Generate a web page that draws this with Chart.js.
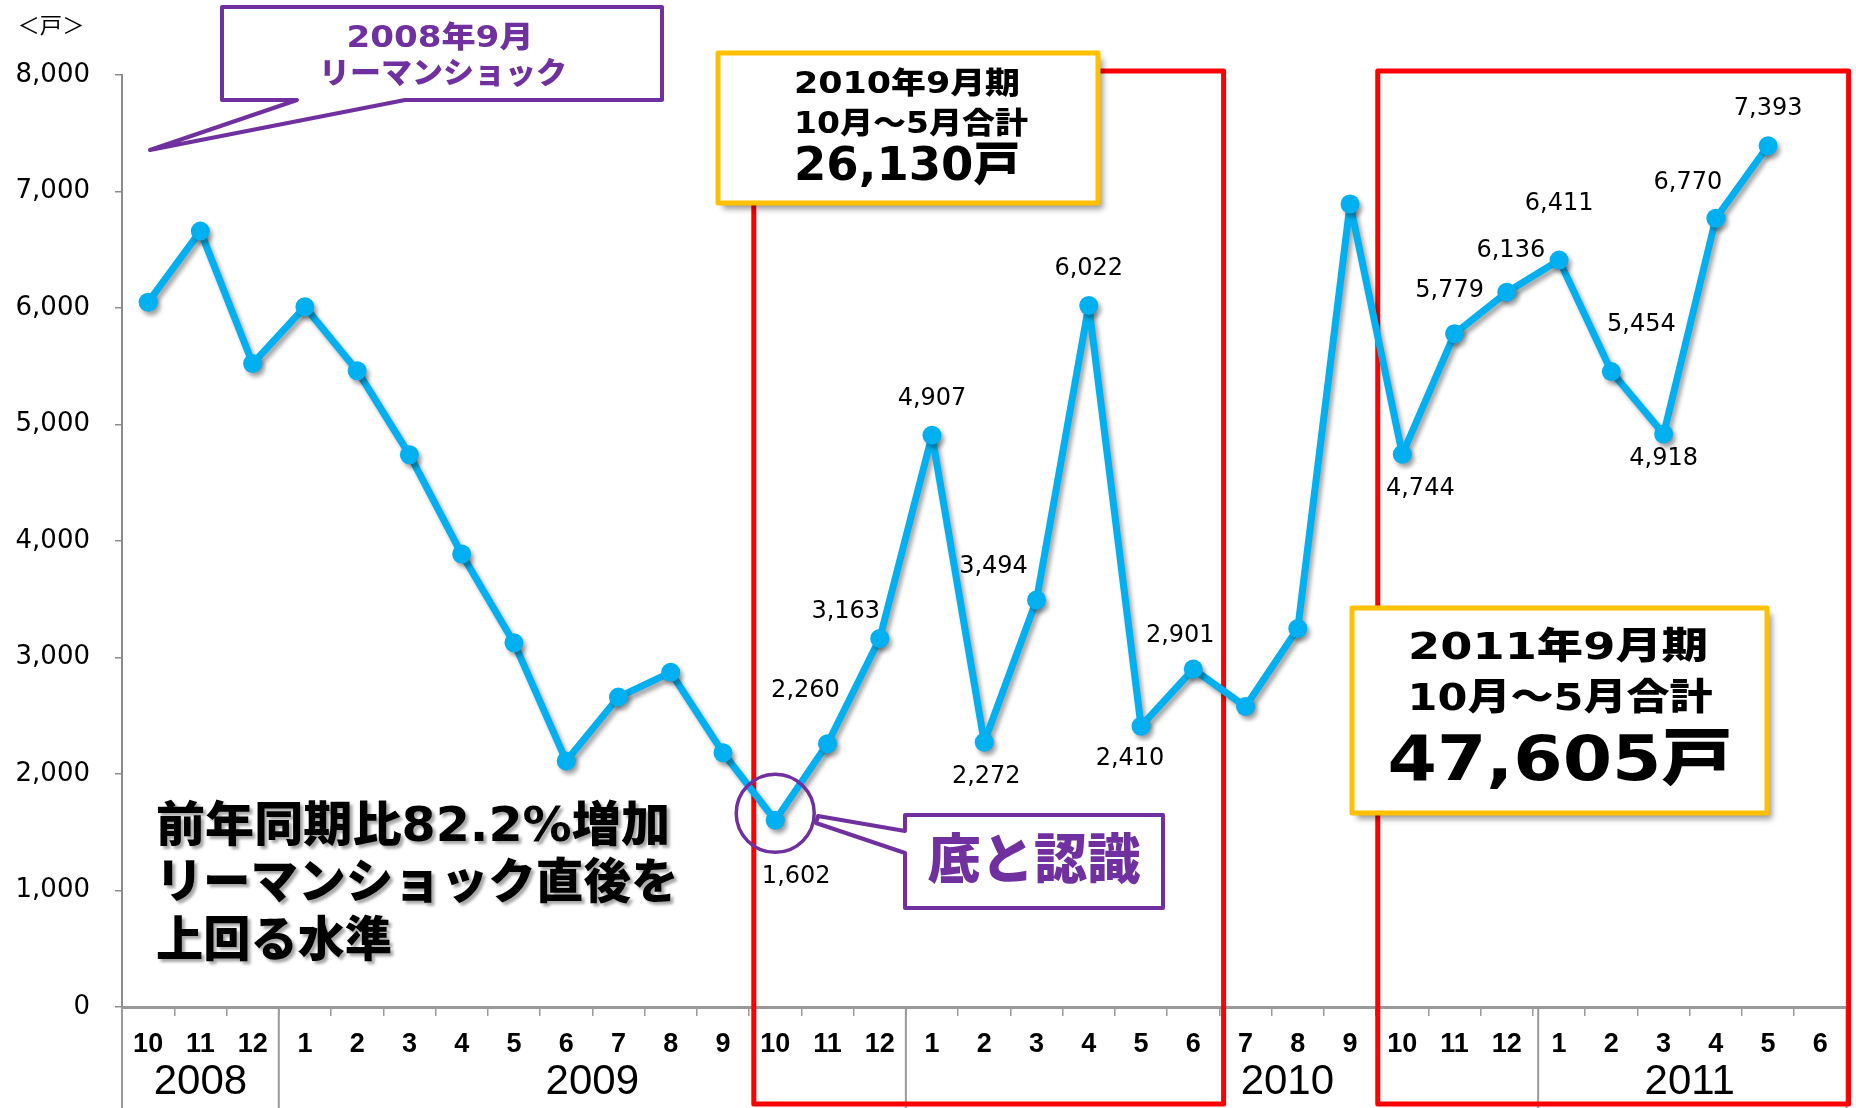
<!DOCTYPE html>
<html>
<head>
<meta charset="utf-8">
<script src="https://cdn.jsdelivr.net/npm/chart.js@4.4.1/dist/chart.umd.min.js"></script>
<style>
	html, body { margin: 0; padding: 0; background: #fff; }
	#wrap { width: 1856px; height: 1108px; }
</style>
</head>
<body>
<div id="wrap"><canvas id="chart1" width="1856" height="1108"></canvas></div>
<script>
// ventes mensuelles (戸) d'octobre 2008 a juin 2011
const mois = ['10','11','12','1','2','3','4','5','6','7','8','9','10','11','12','1','2','3','4','5','6','7','8','9','10','11','12','1','2','3','4','5','6'];
const annees = ['2008', '2009', '2010', '2011'];
const ventes = [6050, 6660, 5523, 6010, 5462, 4741, 3888, 3127, 2112, 2660, 2873, 2183,
	1602, 2260, 3163, 4907, 2272, 3494, 6022, 2410, 2901, 2579, 3249, 6893,
	4744, 5779, 6136, 6411, 5454, 4918, 6770, 7393, null];
// index des points qui ont une etiquette
const pointsEtiquetes = [12, 13, 14, 15, 16, 17, 18, 19, 20, 24, 25, 26, 27, 28, 29, 30, 31];
// periodes encadrees en rouge (index debut, index fin) : oct -> juin
const periodes = [[12, 20], [24, 32]];

const BLEU = '#00B0F0';
const VIOLET = '#7030A0';
const ROUGE = '#FF0000';
const JAUNE = '#FFC000';
const JP = "'DejaVu Sans', 'Noto Sans CJK JP'";

// decalage des etiquettes par rapport au point (px)
const decalage = {12: [21, 56], 13: [-22, -53], 14: [-34, -27], 15: [0, -37], 16: [2, 34], 17: [-43, -33],
	18: [0, -37], 19: [-11, 33], 20: [-13, -33], 24: [18, 34], 25: [-5, -43], 26: [4, -41], 27: [0, -56],
	28: [30, -47], 29: [0, 25], 30: [-28, -36], 31: [0, -37]};
// position des annees et des separations (en index de categorie)
const milieuAnnee = [1, 8.5, 21.8, 29.5];
const separations = [-0.5, 2.5, 14.5, 26.6, 32.5];
// le cadre rouge ne tombe pas pile entre deux mois
const bordCadre = [[0.09, 0.08], [0.03, 0.04]];

// texte centre, etire pour avoir la bonne largeur
function texte(ctx, str, cx, cy, font, largeur, couleur) {
	ctx.save();
	ctx.font = font;
	ctx.fillStyle = couleur;
	ctx.textAlign = 'center';
	ctx.textBaseline = 'middle';
	const w = ctx.measureText(str).width;
	ctx.translate(cx, cy);
	if (largeur) ctx.scale(largeur / w, 1);
	ctx.fillText(str, 0, 0);
	ctx.restore();
}

function ombre(ctx, dx, dy, flou, c) {
	ctx.shadowColor = c || 'rgba(0,0,0,0.35)';
	ctx.shadowOffsetX = dx;
	ctx.shadowOffsetY = dy;
	ctx.shadowBlur = flou;
}

const annotations = {
	id: 'annotations',
	beforeDatasetsDraw(chart) {
		const ctx = chart.ctx;
		const x = chart.scales.x;
		const bas = chart.chartArea.bottom;

		// separations des annees sous l'axe
		ctx.save();
		ctx.strokeStyle = '#9a9a9a';
		ctx.lineWidth = 2;
		for (const s of separations) {
			const px = x.getPixelForValue(s);
			ctx.beginPath();
			ctx.moveTo(px, bas);
			ctx.lineTo(px, 1108);
			ctx.stroke();
		}
		for (let i = 0; i < annees.length; i++) {
			ctx.font = '42px "Liberation Sans"';
			ctx.fillStyle = '#000';
			ctx.textAlign = 'center';
			ctx.textBaseline = 'middle';
			ctx.fillText(annees[i], x.getPixelForValue(milieuAnnee[i]), 1082);
		}
		ctx.restore();

		// cadres rouges
		ctx.save();
		ctx.strokeStyle = ROUGE;
		ctx.lineWidth = 5;
		ctx.lineJoin = 'round';
		for (let k = 0; k < periodes.length; k++) {
			const p = periodes[k];
			const x1 = x.getPixelForValue(p[0] - 0.5 + bordCadre[k][0]);
			const x2 = x.getPixelForValue(p[1] + 0.5 + bordCadre[k][1]);
			ctx.strokeRect(x1, 71, x2 - x1, 1104 - 71);
		}
		ctx.restore();

		// ombre de la courbe
		ctx.save();
		ombre(ctx, 3, 4, 4);
	},
	afterDatasetsDraw(chart) {
		const ctx = chart.ctx;
		ctx.restore();
		const meta = chart.getDatasetMeta(0);

		// etiquettes des valeurs
		ctx.save();
		ctx.font = '24px "DejaVu Sans"';
		ctx.fillStyle = '#000';
		ctx.textAlign = 'center';
		ctx.textBaseline = 'middle';
		for (const i of pointsEtiquetes) {
			const pt = meta.data[i];
			const d = decalage[i];
			ctx.fillText(ventes[i].toLocaleString('en-US'), pt.x + d[0], pt.y + d[1]);
		}
		ctx.restore();

		// ＜戸＞
		texte(ctx, '＜戸＞', 51, 25, "22px 'Noto Sans CJK JP'", 67, '#000');

		// bulle リーマンショック
		ctx.save();
		ctx.beginPath();
		ctx.moveTo(222, 7);
		ctx.lineTo(662, 7);
		ctx.lineTo(662, 100);
		ctx.lineTo(405, 100);
		ctx.lineTo(150, 150);
		ctx.lineTo(297, 100);
		ctx.lineTo(222, 100);
		ctx.closePath();
		ctx.fillStyle = '#fff';
		ctx.fill();
		ctx.strokeStyle = VIOLET;
		ctx.lineWidth = 4;
		ctx.lineJoin = 'round';
		ctx.stroke();
		ctx.restore();
		texte(ctx, '2008年9月', 440, 39, '900 30px ' + JP, 187, VIOLET);
		texte(ctx, 'リーマンショック', 443, 75, '900 30px ' + JP, 248, VIOLET);

		// encadres jaunes
		const cadres = [
			{x: 718, y: 53, w: 380, h: 150},
			{x: 1352, y: 608, w: 415, h: 205}
		];
		for (const c of cadres) {
			ctx.save();
			ombre(ctx, 5, 6, 6, 'rgba(0,0,0,0.4)');
			ctx.fillStyle = '#fff';
			ctx.fillRect(c.x, c.y, c.w, c.h);
			ctx.restore();
			ctx.save();
			ctx.strokeStyle = JAUNE;
			ctx.lineWidth = 5;
			ctx.lineJoin = 'round';
			ctx.strokeRect(c.x, c.y, c.w, c.h);
			ctx.restore();
		}
		texte(ctx, '2010年9月期', 907, 85, '900 30px ' + JP, 226, '#000');
		texte(ctx, '10月～5月合計', 911, 125, '900 30px ' + JP, 234, '#000');
		texte(ctx, '26,130戸', 907, 168, '900 46px ' + JP, 226, '#000');
		texte(ctx, '2011年9月期', 1558, 649, '900 37px ' + JP, 300, '#000');
		texte(ctx, '10月～5月合計', 1560, 700, '900 37px ' + JP, 305, '#000');
		texte(ctx, '47,605戸', 1560, 764, '900 62px ' + JP, 345, '#000');

		// cercle autour du creux + bulle 底と認識
		const creux = meta.data[12];
		ctx.save();
		ctx.strokeStyle = VIOLET;
		ctx.lineWidth = 3.5;
		ctx.beginPath();
		ctx.arc(creux.x, creux.y - 7, 39, 0, Math.PI * 2);
		ctx.stroke();
		ctx.beginPath();
		ctx.moveTo(905, 815);
		ctx.lineTo(1163, 815);
		ctx.lineTo(1163, 908);
		ctx.lineTo(905, 908);
		ctx.lineTo(905, 853);
		ctx.lineTo(816, 823);
		ctx.lineTo(818, 816);
		ctx.lineTo(905, 831);
		ctx.closePath();
		ctx.fillStyle = '#fff';
		ctx.fill();
		ctx.lineWidth = 4;
		ctx.lineJoin = 'round';
		ctx.stroke();
		ctx.restore();
		texte(ctx, '底と認識', 1034, 865, '900 54px ' + JP, 213, VIOLET);

		// commentaire a gauche
		ctx.save();
		ombre(ctx, 3, 3, 3, 'rgba(0,0,0,0.35)');
		texte(ctx, '前年同期比82.2%増加', 413, 829, '900 48px ' + JP, 514, '#000');
		texte(ctx, 'リーマンショック直後を', 417, 886, '900 48px ' + JP, 523, '#000');
		texte(ctx, '上回る水準', 274, 944, '900 48px ' + JP, 236, '#000');
		ctx.restore();
	}
};

const ctx1 = document.getElementById('chart1');

new Chart(ctx1, {
	type: 'line',
	data: {
		labels: mois,
		datasets: [
			{
				data: ventes,
				borderColor: BLEU,
				backgroundColor: BLEU,
				borderWidth: 7,
				borderJoinStyle: 'round',
				borderCapStyle: 'round',
				pointRadius: 9.5,
				pointBorderWidth: 0,
				pointBackgroundColor: BLEU,
				tension: 0,
				fill: false,
			},
		]
	},
	options: {
		responsive: false,
		animation: false,
		layout: {
			padding: { top: 75, right: 9, bottom: 0, left: 0 }
		},
		plugins: {
			legend: { display: false },
			tooltip: { enabled: false },
			title: { display: false },
		},
		scales: {
			x: {
				offset: true,
				afterFit: (s) => { s.height = 101; },
				grid: {
					offset: true,
					drawOnChartArea: false,
					tickLength: 9,
					color: '#9a9a9a',
					lineWidth: 1.5,
				},
				border: { color: '#9a9a9a', width: 3 },
				ticks: {
					autoSkip: false,
					maxRotation: 0,
					padding: 12,
					color: '#000',
					font: { family: 'Liberation Sans', size: 27, weight: 'bold' },
				}
			},
			y: {
				min: 0,
				max: 8000,
				afterFit: (s) => { s.width = 122; },
				grid: {
					drawOnChartArea: false,
					tickLength: 7,
					color: '#8c8c8c',
					lineWidth: 1.5,
				},
				border: { color: '#8c8c8c', width: 2 },
				ticks: {
					stepSize: 1000,
					padding: 25,
					color: '#000',
					font: { family: 'DejaVu Sans', size: 26 },
					callback: (v) => v.toLocaleString('en-US'),
				}
			}
		}
	},
	plugins: [annotations]
});
</script>
</body>
</html>
